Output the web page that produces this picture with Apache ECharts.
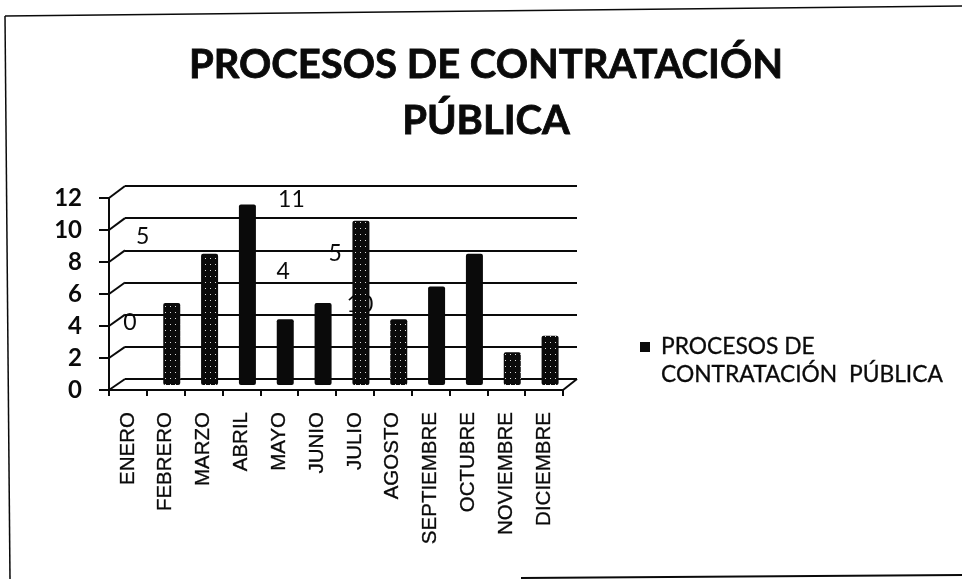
<!DOCTYPE html>
<html><head><meta charset="utf-8">
<style>html,body{margin:0;padding:0;background:#fff}#c{width:962px;height:579px}</style>
<script src="https://cdn.jsdelivr.net/npm/echarts@6/dist/echarts.min.js"></script>
</head><body><div id="c"></div>
<script>
const categories=['ENERO','FEBRERO','MARZO','ABRIL','MAYO','JUNIO','JULIO','AGOSTO','SEPTIEMBRE','OCTUBRE','NOVIEMBRE','DICIEMBRE'];
const values=[0,5,8,11,4,5,10,4,6,8,2,3];
const seriesName='PROCESOS DE CONTRATACIÓN  PÚBLICA';
const titleText='PROCESOS DE CONTRATACIÓN\nPÚBLICA';
const labelled=['ENERO','FEBRERO','ABRIL','MAYO','JUNIO','JULIO'];
const labelShift=[[-4,-46],[-29,-50],null,[44,12],[-2,-31],[12,-33],[-1,100]];
const speckled=['FEBRERO','MARZO','JULIO','AGOSTO','NOVIEMBRE','DICIEMBRE'];
const ink='#0a0a0a';
const speck={color:'rgba(255,255,255,.85)',symbol:'rect',symbolSize:1,dashArrayX:[1,4],dashArrayY:[1,5],rotation:0};
const chart=echarts.init(document.getElementById('c'),null,{renderer:'canvas'});
const barData=values.map((v,i)=>{
  const name=categories[i],d={value:v,itemStyle:{}};
  if(speckled.includes(name)) d.itemStyle.decal=speck;
  d.label=labelled.includes(name)
    ?{show:true,position:'top',offset:labelShift[i],fontFamily:'Lato',fontSize:23,color:ink}
    :{show:false};
  return d;
});
const hiddenCat={type:'category',data:categories,show:false};
const hiddenVal={type:'value',min:0,max:12,interval:2,show:false,splitLine:{show:false}};
chart.setOption({
  animation:false,
  backgroundColor:'#fff',
  title:{text:titleText,left:481,top:32,textAlign:'center',
    textStyle:{fontFamily:'Lato',fontWeight:'bold',fontSize:40,lineHeight:56,color:ink,textBorderColor:ink,textBorderWidth:0.8}},
  legend:{show:true,left:635,top:328,orient:'vertical',itemWidth:10,itemHeight:38,itemGap:0,
    data:[{name:seriesName,icon:'path://M0 0H10V10H0Z M0 38H0.01V38Z'}],
    formatter:n=>n.replace(' CONTRATACIÓN','\nCONTRATACIÓN'),
    textStyle:{fontFamily:'Lato',fontSize:22.8,lineHeight:28,color:ink,padding:[0,0,0,6],textBorderColor:ink,textBorderWidth:0.3}},
  grid:[
    {left:109,top:198,width:454,height:192},
    {left:125,top:186,width:452,height:193},
    {left:115,top:188,width:454,height:197}
  ],
  xAxis:[
    {type:'category',gridIndex:0,data:categories,
      axisLine:{show:true,lineStyle:{color:ink,width:2}},
      axisTick:{show:true,inside:false,length:6,lineStyle:{color:ink,width:2}},
      axisLabel:{rotate:90,interval:0,margin:22,fontFamily:'Liberation Sans',fontSize:20.5,color:ink,textBorderColor:ink,textBorderWidth:0.3},splitLine:{show:false}},
    {...hiddenCat,gridIndex:1},
    {...hiddenCat,gridIndex:2}
  ],
  yAxis:[
    {type:'value',gridIndex:0,min:0,max:12,interval:2,
      axisLine:{show:true,lineStyle:{color:ink,width:2}},
      axisTick:{show:true,length:10,lineStyle:{color:ink,width:2}},
      axisLabel:{margin:27,fontFamily:'Lato',fontWeight:'bold',fontSize:24,color:ink},splitLine:{show:false}},
    {type:'value',gridIndex:1,min:0,max:12,interval:2,
      axisLine:{show:false},axisTick:{show:false},axisLabel:{show:false},
      splitLine:{show:true,lineStyle:{color:ink,width:2}}},
    {...hiddenVal,gridIndex:2}
  ],
  series:[{type:'bar',name:seriesName,xAxisIndex:2,yAxisIndex:2,barWidth:17,
    itemStyle:{color:ink,borderRadius:2},data:barData,z:5}]
});
const front=v=>chart.convertToPixel({xAxisIndex:0,yAxisIndex:0},[0,v])[1];
const back=v=>chart.convertToPixel({yAxisIndex:1},v);
const line=(x1,y1,x2,y2,w=2)=>({type:'line',silent:true,shape:{x1,y1,x2,y2},style:{stroke:ink,lineWidth:w}});
const ticks=[0,2,4,6,8,10,12];
chart.setOption({graphic:{elements:[
  ...ticks.map(v=>line(109,front(v),125,back(v))),
  line(563,390,577,back(0)),
  line(5,16,962,6,1.5),
  line(5,16,10,579,1.5),
  line(521,578,962,575,2)
]}});
</script></body></html>
